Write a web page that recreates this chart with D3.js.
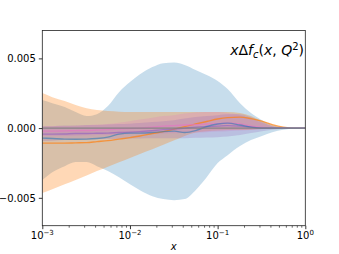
<!DOCTYPE html>
<html>
<head>
<meta charset="utf-8">
<script src="https://cdn.jsdelivr.net/npm/d3@7"></script>
<style>
  body { margin: 0; background: #fff; }
  text { font-family: "DejaVu Sans", sans-serif; }
</style>
</head>
<body>
<div id="chart"></div>
<script>
// x grid (log spaced) and band / line values, in units of 1e-3
const xs = [0.001, 0.0013, 0.0018, 0.0024, 0.0032, 0.0042, 0.0056, 0.0075, 0.01, 0.013, 0.018, 0.024,
            0.032, 0.042, 0.056, 0.075, 0.1, 0.13, 0.18, 0.24, 0.32, 0.42, 0.56, 0.75, 1.0];

const blueHi = [2.01, 1.79, 1.51, 1.15, 0.86, 1.00, 1.58, 2.58, 3.30, 3.87, 4.38, 4.66, 4.70, 4.52, 4.16,
                3.80, 3.37, 2.80, 1.79, 1.08, 0.57, 0.22, 0.04, 0, 0];
const blueLo = [-3.73, -3.16, -2.73, -2.44, -2.44, -2.73, -3.08, -3.52, -4.02, -4.45, -4.88, -5.09, -5.17,
                -5.09, -4.45, -3.52, -2.51, -1.94, -1.29, -0.86, -0.57, -0.29, -0.11, -0.04, 0];
const orangeHi = [2.51, 2.22, 1.94, 1.65, 1.43, 1.29, 1.22, 1.18, 1.15, 1.15, 1.15, 1.15, 1.15, 1.15, 1.15,
                  1.15, 1.15, 1.15, 1.08, 0.86, 0.50, 0.22, 0.04, 0, 0];
const orangeLo = [-4.66, -4.38, -4.03, -3.72, -3.40, -3.08, -2.77, -2.45, -2.14, -1.85, -1.51, -1.19, -0.88,
                  -0.56, -0.32, -0.22, -0.18, -0.14, -0.14, -0.11, -0.07, -0.04, -0.01, 0, 0];
const pinkHi = [0.14, 0.14, 0.15, 0.17, 0.20, 0.25, 0.30, 0.39, 0.50, 0.61, 0.75, 0.86, 0.93, 1.04, 1.11,
                1.15, 1.15, 1.08, 0.93, 0.65, 0.36, 0.14, 0.04, 0, 0];
const pinkLo = [-0.57, -0.57, -0.56, -0.54, -0.52, -0.50, -0.49, -0.47, -0.44, -0.43, -0.42, -0.39, -0.37,
                -0.36, -0.32, -0.29, -0.25, -0.22, -0.18, -0.14, -0.09, -0.05, -0.01, 0, 0];
const purpleHi = [0.14, 0.14, 0.18, 0.18, 0.22, 0.22, 0.25, 0.29, 0.32, 0.36, 0.43, 0.50, 0.57, 0.68, 0.79,
                  0.86, 0.93, 1.00, 1.00, 0.79, 0.43, 0.14, 0.04, 0, 0];
const purpleLo = [-0.93, -0.90, -0.86, -0.83, -0.83, -0.79, -0.79, -0.77, -0.75, -0.74, -0.72, -0.72, -0.72,
                  -0.72, -0.70, -0.68, -0.65, -0.61, -0.50, -0.36, -0.22, -0.11, -0.04, 0, 0];

const blueMid = [-0.72, -0.75, -0.79, -0.80, -0.79, -0.75, -0.65, -0.43, -0.36, -0.36, -0.32, -0.25, -0.22,
                 -0.32, -0.18, 0.11, 0.29, 0.36, 0.22, 0.07, 0, 0, 0, 0, 0];
const orangeMid = [-1.08, -1.08, -1.08, -1.06, -1.04, -0.97, -0.90, -0.79, -0.68, -0.57, -0.39, -0.25, -0.07,
                   0.11, 0.29, 0.47, 0.65, 0.75, 0.79, 0.68, 0.50, 0.25, 0.07, 0, 0];
const purpleMid = [-0.43, -0.43, -0.42, -0.39, -0.39, -0.37, -0.36, -0.32, -0.29, -0.25, -0.18, -0.11, -0.07,
                   0, 0.07, 0.11, 0.14, 0.18, 0.14, 0.07, 0, 0, 0, 0, 0];
const pinkMid = [-0.22, -0.22, -0.20, -0.18, -0.17, -0.14, -0.11, -0.07, -0.04, 0, 0.07, 0.14, 0.18, 0.22,
                 0.25, 0.29, 0.32, 0.36, 0.29, 0.14, 0.04, 0, 0, 0, 0];
const grayMid = xs.map(() => 0);

const yTicks = [-0.005, 0, 0.005];
const xTicks = [1e-3, 1e-2, 1e-1, 1];
const xTickExp = ["−3", "−2", "−1", "0"];
const unit = 1e-3;

// Dimensions
const width = 339, height = 254;
const margin = { top: 30.5, right: 33.7, bottom: 28.3, left: 42.3 };

const svg = d3.select("#chart")
    .append("svg")
    .attr("width", width)
    .attr("height", height);

const x = d3.scaleLog().domain([1e-3, 1]).range([margin.left, width - margin.right]);
const y = d3.scaleLinear().domain([-0.007, 0.007]).range([height - margin.bottom, margin.top]);

svg.append("clipPath").attr("id", "clip")
    .append("rect")
    .attr("x", margin.left).attr("y", margin.top)
    .attr("width", x.range()[1] - margin.left)
    .attr("height", y.range()[0] - margin.top);

const plot = svg.append("g").attr("clip-path", "url(#clip)");

// Bands
const bands = [
    { lo: blueLo, hi: blueHi, color: "#1f77b4", alpha: 0.25 },
    { lo: orangeLo, hi: orangeHi, color: "#ff7f0e", alpha: 0.3 },
    { lo: pinkLo, hi: pinkHi, color: "#e377c2", alpha: 0.25 },
    { lo: purpleLo, hi: purpleHi, color: "#9467bd", alpha: 0.25 }
];

const area = d3.area()
    .x(d => x(d.x))
    .y0(d => y(d.lo * unit))
    .y1(d => y(d.hi * unit))
    .curve(d3.curveMonotoneX);

bands.forEach(b => {
    const rows = xs.map((v, i) => ({ x: v, lo: b.lo[i], hi: b.hi[i] }));
    plot.append("path")
        .datum(rows)
        .attr("fill", b.color)
        .attr("fill-opacity", b.alpha)
        .attr("stroke", "none")
        .attr("d", area);
});

// Central lines
const lines = [
    { v: orangeMid, color: "#ff7f0e", alpha: 0.7 },
    { v: pinkMid, color: "#e377c2", alpha: 0.7 },
    { v: purpleMid, color: "#9467bd", alpha: 0.7 },
    { v: blueMid, color: "#1f77b4", alpha: 0.55 },
    { v: grayMid, color: "#7f7f7f", alpha: 0.9 }
];

const line = d3.line()
    .x(d => x(d.x))
    .y(d => y(d.v * unit))
    .curve(d3.curveMonotoneX);

lines.forEach(l => {
    plot.append("path")
        .datum(xs.map((v, i) => ({ x: v, v: l.v[i] })))
        .attr("fill", "none")
        .attr("stroke", l.color)
        .attr("stroke-opacity", l.alpha)
        .attr("stroke-width", 1.4)
        .attr("d", line);
});

// Axes
const yAxis = svg.append("g")
    .attr("transform", `translate(${margin.left},0)`)
    .call(d3.axisLeft(y).tickValues(yTicks).tickSize(3.5).tickPadding(3).tickFormat(d3.format(".3f")));
yAxis.select(".domain").remove();
yAxis.selectAll("text").attr("font-size", 10).attr("fill", "#000");
yAxis.selectAll("line").attr("stroke", "#000").attr("stroke-width", 0.8);

const minorTicks = [];
[1e-3, 1e-2, 1e-1].forEach(d => { for (let k = 2; k <= 9; k++) minorTicks.push(d * k); });

const xAxis = svg.append("g")
    .attr("transform", `translate(0,${y.range()[0]})`)
    .call(d3.axisBottom(x).tickValues(xTicks).tickSize(3.5).tickFormat(""));
xAxis.select(".domain").remove();
xAxis.selectAll("line").attr("stroke", "#000").attr("stroke-width", 0.8);

svg.append("g")
    .attr("transform", `translate(0,${y.range()[0]})`)
    .call(d3.axisBottom(x).tickValues(minorTicks).tickSize(2).tickFormat(""))
    .call(g => g.select(".domain").remove())
    .selectAll("line").attr("stroke", "#000").attr("stroke-width", 0.6);

xTicks.forEach((t, i) => {
    const label = svg.append("text")
        .attr("x", x(t))
        .attr("y", y.range()[0] + 12.8)
        .attr("text-anchor", "middle")
        .attr("font-size", 10);
    label.append("tspan").text("10");
    label.append("tspan").attr("font-size", 7).attr("dy", -4).text(xTickExp[i]);
});

// Frame
svg.append("rect")
    .attr("x", margin.left).attr("y", margin.top)
    .attr("width", x.range()[1] - margin.left)
    .attr("height", y.range()[0] - margin.top)
    .attr("fill", "none")
    .attr("stroke", "#222")
    .attr("stroke-width", 0.8);

// Axis title
svg.append("text")
    .attr("x", (margin.left + x.range()[1]) / 2)
    .attr("y", 250)
    .attr("text-anchor", "middle")
    .attr("font-size", 10)
    .attr("font-style", "italic")
    .text("x");

// Panel label
const title = svg.append("text")
    .attr("x", 304)
    .attr("y", 55)
    .attr("text-anchor", "end")
    .attr("font-size", 14);
title.append("tspan").attr("font-style", "italic").text("x");
title.append("tspan").text("Δ");
title.append("tspan").attr("font-style", "italic").text("f");
title.append("tspan").attr("font-style", "italic").attr("font-size", 10).attr("dy", 2.5).text("c");
title.append("tspan").attr("dy", -2.5).text("(");
title.append("tspan").attr("font-style", "italic").text("x");
title.append("tspan").text(", ");
title.append("tspan").attr("font-style", "italic").text("Q");
title.append("tspan").attr("font-size", 10).attr("dy", -5.5).text("2");
title.append("tspan").attr("dy", 5.5).text(")");
</script>
</body>
</html>
